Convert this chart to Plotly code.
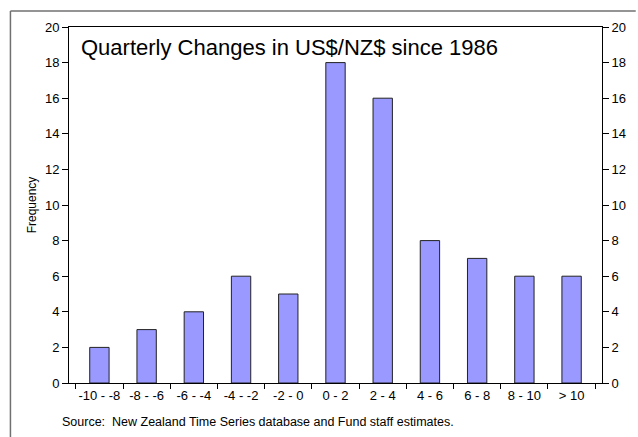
import plotly.graph_objects as go

categories = ["-10 - -8", "-8 - -6", "-6 - -4", "-4 - -2", "-2 - 0", "0 - 2", "2 - 4", "4 - 6", "6 - 8", "8 - 10", "> 10"]
frequency = [2, 3, 4, 6, 5, 18, 16, 8, 7, 6, 6]
y_ticks = [0, 2, 4, 6, 8, 10, 12, 14, 16, 18, 20]

W, H = 638, 437
L, R, T, B = 69, 32, 27, 54
pw, ph = W - L - R, H - T - B

def px(x):
    return (x - L) / pw

def py(y):
    return (H - B - y) / ph

fig = go.Figure()
fig.add_trace(go.Bar(x=categories, y=frequency, marker=dict(color="#9999FF", line=dict(color="#222222", width=1)),
                     width=0.41, showlegend=False))
fig.add_trace(go.Scatter(x=categories, y=frequency, yaxis="y2", mode="markers",
                         marker=dict(opacity=0), showlegend=False, hoverinfo="skip"))

font = dict(family="Liberation Sans, Arial", size=13, color="#000000")
fig.update_layout(
    width=W, height=H,
    margin=dict(l=L, r=R, t=T, b=B, pad=0),
    paper_bgcolor="white", plot_bgcolor="white",
    font=font,
    xaxis=dict(type="category", showline=True, linecolor="black", linewidth=1, mirror=True,
               ticks="outside", tickson="boundaries", ticklen=5, tickcolor="black",
               showgrid=False, tickfont=font, tickangle=0),
    yaxis=dict(range=[0, 20], tickvals=y_ticks, showline=True, linecolor="black", linewidth=1,
               ticks="outside", ticklen=6, tickcolor="black", showgrid=False, zeroline=False,
               tickfont=font, title=dict(text="Frequency", font=dict(family="Liberation Sans, Arial", size=12, color="black"), standoff=5)),
    yaxis2=dict(range=[0, 20], tickvals=y_ticks, overlaying="y", side="right", showline=True,
                linecolor="black", linewidth=1, ticks="outside", ticklen=6, tickcolor="black",
                showgrid=False, zeroline=False, tickfont=font),
    bargap=0.59,
)

fig.add_annotation(text="Quarterly Changes in US$/NZ$ since 1986", xref="paper", yref="paper",
                   x=px(79), y=py(48), xanchor="left", yanchor="middle", showarrow=False,
                   font=dict(family="Liberation Sans, Arial", size=22, color="black"))
fig.add_annotation(text="Source:  New Zealand Time Series database and Fund staff estimates.", xref="paper", yref="paper",
                   x=px(60), y=py(422), xanchor="left", yanchor="middle", showarrow=False,
                   font=dict(family="Liberation Sans, Arial", size=12.5, color="black"))

# outer frame (top and left edges visible)
fig.add_shape(type="line", xref="paper", yref="paper", x0=px(10), y0=py(11), x1=px(640), y1=py(11),
              line=dict(color="#707070", width=1.5), layer="above")
fig.add_shape(type="line", xref="paper", yref="paper", x0=px(10), y0=py(11), x1=px(10), y1=py(440),
              line=dict(color="#707070", width=1.5), layer="above")

fig.write_html("out.html", config={"displayModeBar": False},
               post_script="document.body.style.margin='0';document.body.style.overflow='hidden';")
